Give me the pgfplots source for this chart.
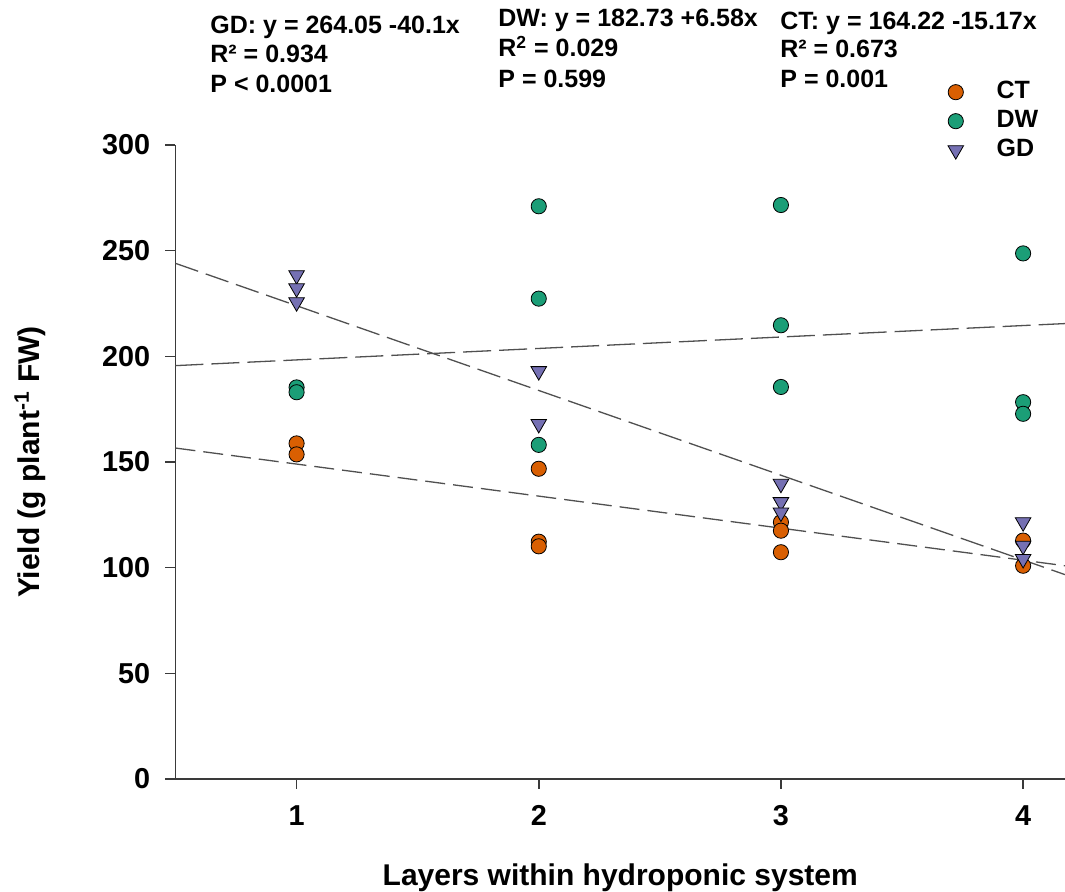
\documentclass[border=0pt]{standalone}
\usepackage{fontspec}
\setmainfont{Liberation Sans}
\usepackage{pgfplots}
\pgfplotsset{compat=1.18}
\definecolor{ctc}{HTML}{D95F02}
\definecolor{dwc}{HTML}{1B9E77}
\definecolor{gdc}{HTML}{7570B3}
\definecolor{axc}{HTML}{3A3A3A}
\definecolor{lnc}{HTML}{505050}
\newcommand{\annfont}{\bfseries\fontsize{12.5}{14.5}\selectfont}
\begin{document}
\begin{tikzpicture}
\path[use as bounding box] (-87.75pt,-56.5pt) rectangle (444.75pt,389.5pt);
\begin{axis}[
  at={(0pt,0pt)}, anchor=south west,
  scale only axis, width=444.75pt, height=317pt,
  xmin=0.5, xmax=4.173, ymin=0, ymax=300,
  axis x line*=bottom, axis y line*=left,
  xtick pos=left, ytick pos=left,
  axis line style={axc, line width=0.75pt, -},
  xtick={1,2,3,4}, ytick={0,50,...,300},
  tick align=outside, major tick length=5pt,
  tick style={axc, line width=0.75pt},
  /pgf/number format/assume math mode=true,
  tick label style={font=\bfseries\fontsize{14.4}{14.4}\selectfont},
  xticklabel style={inner sep=0pt, yshift=-8pt},
  yticklabel style={inner sep=0pt, xshift=-7.5pt},
  xlabel={Layers within hydroponic system},
  ylabel={Yield (g plant\textsuperscript{-1} FW)},
  label style={font=\bfseries\fontsize{15}{15}\selectfont},
  xlabel style={at={(axis description cs:0.5,-0.156)}, anchor=center},
  ylabel style={at={(axis description cs:-0.1636,0.5)}, anchor=center},
  legend style={draw=none, fill=none, inner sep=0pt,
    at={(rel axis cs:0.868,1.106)}, anchor=north west,
    font=\annfont, row sep=0.5pt,
    nodes={text height=9pt, text depth=3pt, inner sep=1pt},
    /tikz/every odd column/.append style={column sep=15.5pt}},
  legend cell align=left,
]
\addplot[only marks, mark=*, mark size=3.8pt, mark options={fill=ctc, draw=black, line width=0.4pt}]
  coordinates {(1,158.8) (1,153.6) (2,146.8) (2,112.3) (2,110.1) (3,121.5) (3,117.5) (3,107.3) (4,112.8) (4,100.9)};
\addlegendentry{CT}
\addplot[only marks, mark=*, mark size=3.8pt, mark options={fill=dwc, draw=black, line width=0.4pt}]
  coordinates {(1,185.3) (1,183.0) (2,271.0) (2,227.3) (2,158.1) (3,271.6) (3,214.7) (3,185.5) (4,248.7) (4,178.3) (4,172.8)};
\addlegendentry{DW}
\addplot[only marks, mark=triangle*, mark size=4.5pt, mark options={rotate=180, fill=gdc, draw=black, line width=0.4pt}]
  coordinates {(1,238.4) (1,232.2) (1,225.6) (2,193.0) (2,168.0) (3,139.7) (3,131.0) (3,126.1) (4,121.5) (4,110.4) (4,104.1)};
\addlegendentry{GD}
% regression lines
\addplot[forget plot, lnc, line width=0.65pt, dash pattern=on 12pt off 4pt] coordinates {(0.5,244.0) (4.173,96.7)};
\addplot[forget plot, lnc, line width=0.65pt, dash pattern=on 14pt off 4pt] coordinates {(0.5,195.6) (4.173,215.5)};
\addplot[forget plot, lnc, line width=0.65pt, dash pattern=on 10pt off 4pt] coordinates {(0.5,156.6) (4.173,100.9)};
\end{axis}
% annotations
\node[anchor=base west, inner sep=0pt, font=\annfont] at (17.25pt,372.5pt) {GD: y = 264.05 -40.1x};
\node[anchor=base west, inner sep=0pt, font=\annfont] at (17.25pt,358pt) {R² = 0.934};
\node[anchor=base west, inner sep=0pt, font=\annfont] at (17.25pt,343pt) {P < 0.0001};
\node[anchor=base west, inner sep=0pt, font=\annfont] at (161.25pt,376pt) {DW: y = 182.73 +6.58x};
\node[anchor=base west, inner sep=0pt, font=\annfont] at (161.25pt,361pt) {R\textsuperscript{2} = 0.029};
\node[anchor=base west, inner sep=0pt, font=\annfont] at (161.25pt,345.5pt) {P = 0.599};
\node[anchor=base west, inner sep=0pt, font=\annfont] at (302.25pt,374.5pt) {CT: y = 164.22 -15.17x};
\node[anchor=base west, inner sep=0pt, font=\annfont] at (302.25pt,360.5pt) {R² = 0.673};
\node[anchor=base west, inner sep=0pt, font=\annfont] at (302.25pt,345.5pt) {P = 0.001};
\end{tikzpicture}
\end{document}
